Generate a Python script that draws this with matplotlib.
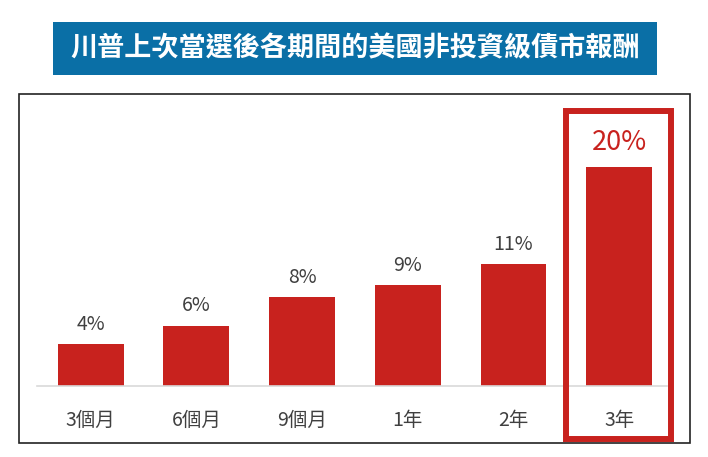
import matplotlib.pyplot as plt
from matplotlib.patches import Rectangle

plt.rcParams['font.family'] = ['Noto Sans CJK TC', 'DejaVu Sans']

title = '川普上次當選後各期間的美國非投資級債市報酬'
categories = ['3個月', '6個月', '9個月', '1年', '2年', '3年']
returns = [3.8, 5.5, 8.1, 9.2, 11.1, 20.0]
labels = ['4%', '6%', '8%', '9%', '11%', '20%']

W, H = 708, 457
bar_color = '#C8221E'
text_color = '#404040'


def px(x0, y0, x1, y1):
    # pixel box (top-left origin) -> figure fraction rect
    return [x0 / W, 1 - y1 / H, (x1 - x0) / W, (y1 - y0) / H]


fig = plt.figure(figsize=(W / 100, H / 100), dpi=100)

# title banner
r = px(53, 22, 657, 75)
fig.patches.append(Rectangle((r[0], r[1]), r[2], r[3], transform=fig.transFigure,
                             facecolor='#0A6FA6', edgecolor='none'))
fig.text(355 / W, 1 - 48.5 / H, title, color='white', fontsize=19.5, fontweight='bold',
         ha='center', va='center')

# chart frame
r = px(19, 94, 690, 443)
fig.patches.append(Rectangle((r[0], r[1]), r[2], r[3], transform=fig.transFigure,
                             facecolor='none', edgecolor='#222222', linewidth=1.2))

ax = fig.add_axes(px(37, 94, 667, 386))
x = list(range(len(categories)))
ax.bar(x, returns, width=0.624, color=bar_color)
ax.set_xlim(-0.508, 5.452)
ax.set_ylim(0, 292 / 10.95)
for s in ['top', 'right', 'left']:
    ax.spines[s].set_visible(False)
ax.spines['bottom'].set_color('#D9D9D9')
ax.spines['bottom'].set_linewidth(1.2)
ax.set_yticks([])
ax.set_xticks(x)
ax.set_xticklabels(categories, fontsize=14, color=text_color)
ax.tick_params(axis='x', length=0, pad=17)

for i, (v, lab) in enumerate(zip(returns, labels)):
    if i == len(returns) - 1:
        ax.annotate(lab, (i, v), xytext=(0, 8), textcoords='offset points',
                    ha='center', va='bottom', fontsize=19.5, color=bar_color)
    else:
        ax.annotate(lab, (i, v), xytext=(0, 7), textcoords='offset points',
                    ha='center', va='bottom', fontsize=14, color=text_color)

# highlight box around the last bar
r = px(566, 111, 671, 439)
fig.patches.append(Rectangle((r[0], r[1]), r[2], r[3], transform=fig.transFigure,
                             facecolor='none', edgecolor=bar_color, linewidth=4.3))

fig.savefig('out.png', dpi=100)
